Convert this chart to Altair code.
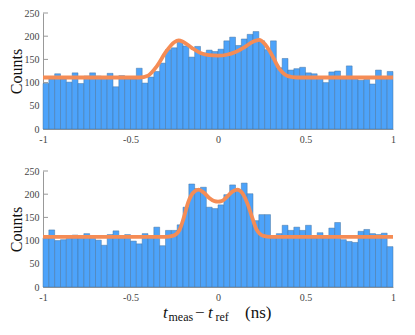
import altair as alt
import pandas as pd

# ---------------- data ----------------
n_bins = 60
x_min, x_max = -1.0, 1.0

top_counts = [98, 108, 119, 108, 101, 121, 98, 114, 121, 114,
              112, 120, 91, 115, 108, 108, 131, 99, 112, 124,
              142, 171, 175, 187, 179, 155, 178, 164, 170, 167,
              172, 190, 198, 180, 194, 204, 210, 190, 171, 190,
              132, 152, 127, 130, 133, 121, 119, 112, 100, 123,
              125, 112, 136, 112, 105, 107, 97, 127, 112, 124]

bottom_counts = [106, 123, 100, 102, 108, 112, 108, 115, 108, 101,
                 90, 113, 121, 108, 113, 99, 93, 115, 108, 129,
                 89, 122, 122, 134, 172, 222, 212, 215, 172, 169,
                 177, 199, 220, 209, 224, 201, 143, 156, 156, 110,
                 115, 133, 122, 129, 122, 133, 106, 117, 108, 127,
                 139, 102, 98, 96, 120, 124, 115, 113, 116, 87]

top_fit_t = [-1.0, -0.45, -0.4, -0.35, -0.3, -0.25, -0.225, -0.2, -0.15, -0.1,
             -0.05, 0.0, 0.05, 0.1, 0.15, 0.2, 0.235, 0.27, 0.3, 0.35, 0.4, 0.45, 1.0]
top_fit_v = [111, 111, 115, 135, 165, 187, 191, 188, 175, 164,
             159, 158, 160, 166, 176, 188, 192, 182, 165, 130, 114, 111, 111]

bot_fit_t = [-1.0, -0.3, -0.26, -0.22, -0.195, -0.17, -0.14, -0.11, -0.08, -0.05,
             -0.02, 0.0, 0.02, 0.05, 0.08, 0.11, 0.14, 0.17, 0.195, 0.22, 0.26, 0.3, 1.0]
bot_fit_v = [108, 108, 110, 123, 150, 183, 204, 210, 203, 192,
             185, 184, 185, 194, 205, 210, 202, 178, 150, 124, 110, 108, 108]

y_tick_values = [0, 50, 100, 150, 200, 250]
x_tick_values = [-1, -0.5, 0, 0.5, 1]

title_pieces = ["t", "meas", "\u2212", "t", "ref", "(ns)"]
title_sizes = [17, 12, 17, 17, 12, 17]
title_styles = ["italic", "normal", "normal", "italic", "normal", "normal"]
title_dx = [-55, -49.5, -23, -10, -2.5, 27]
title_dy = [31, 34, 31, 31, 34, 31]

# ---------------- styling ----------------
W, H = 350, 116
FONT = "Liberation Serif"
BAR_FILL = "#4DA3FA"
BAR_EDGE = "#44729e"
FIT_COLOR = "#F58C55"
AXIS_GRAY = "#999999"
LABEL_GRAY = "#444444"

xs = alt.Scale(domain=[x_min, x_max], nice=False, zero=False)
ys = alt.Scale(domain=[0, 250], nice=False, zero=True)

x_axis = alt.Axis(
    values=x_tick_values, labelExpr="toString(datum.value)", ticks=False,
    grid=False, domainColor=AXIS_GRAY, labelFont=FONT, labelFontSize=10,
    labelColor=LABEL_GRAY, labelPadding=5, labelFlush=False, title=None)
y_axis = alt.Axis(
    values=y_tick_values, ticks=False, grid=False, domainColor=AXIS_GRAY,
    labelFont=FONT, labelFontSize=10, labelColor=LABEL_GRAY, labelPadding=4,
    title="Counts", titleFont=FONT, titleFontSize=16, titleFontWeight="normal",
    titleColor="#111111", titlePadding=0)


def panel(counts, fit_t, fit_v, with_title):
    w = (x_max - x_min) / n_bins
    df = pd.DataFrame({
        "t0": [x_min + i * w for i in range(n_bins)],
        "t1": [x_min + (i + 1) * w for i in range(n_bins)],
        "count": counts,
    })
    fit = pd.DataFrame({"t": fit_t, "v": fit_v})
    ticks = pd.DataFrame({"v": y_tick_values})

    tick_layer = alt.Chart(ticks).mark_rule(color=AXIS_GRAY, strokeWidth=1).encode(
        y=alt.Y("v:Q", scale=ys, axis=y_axis, title="Counts"),
        x=alt.value(0), x2=alt.value(5),
    )

    bars = alt.Chart(df).mark_bar(
        color=BAR_FILL, stroke=BAR_EDGE, strokeWidth=0.6, strokeOpacity=0.8
    ).encode(
        x=alt.X("t0:Q", scale=xs, axis=x_axis),
        x2="t1:Q",
        y=alt.Y("count:Q", scale=ys, axis=y_axis, title="Counts"),
        y2=alt.datum(0),
    )

    line = alt.Chart(fit).mark_line(
        color=FIT_COLOR, strokeWidth=3.8, interpolate="monotone"
    ).encode(x=alt.X("t:Q", scale=xs, axis=x_axis),
             y=alt.Y("v:Q", scale=ys, axis=y_axis, title="Counts"))

    layers = [tick_layer, bars, line]
    if with_title:
        for txt, size, style, dx, dy in zip(title_pieces, title_sizes, title_styles, title_dx, title_dy):
            layers.append(
                alt.Chart(pd.DataFrame({"s": [txt]})).mark_text(
                    font=FONT, fontSize=size, fontStyle=style, align="left",
                    baseline="alphabetic", color="#111111"
                ).encode(text="s:N", x=alt.value(W / 2 + dx), y=alt.value(H + dy))
            )
    return alt.layer(*layers).properties(width=W, height=H)


chart = alt.vconcat(
    panel(top_counts, top_fit_t, top_fit_v, False),
    panel(bottom_counts, bot_fit_t, bot_fit_v, True),
    spacing=22,
).properties(padding={"left": 0, "top": 0, "right": 0, "bottom": 0}).configure_view(stroke=None)

chart.save("out.html", embed_options={"renderer": "svg", "actions": False})
